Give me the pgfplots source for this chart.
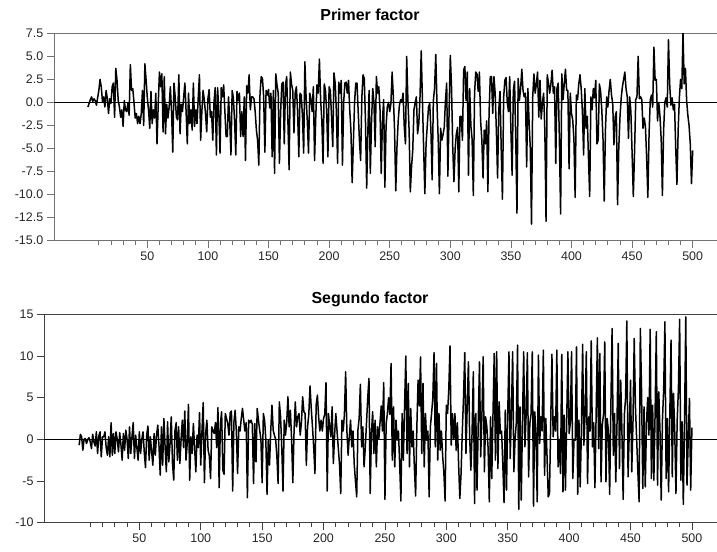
\documentclass[border=0pt]{standalone}
\usepackage{fontspec}
\setmainfont{Liberation Sans}
\usepackage{pgfplots}
\pgfplotsset{compat=1.18}
\pgfplotsset{
  panel/.style={
    scale only axis, anchor=south west,
    axis line style={black!55, line width=0.8bp},
    tick style={black!55, line width=0.8bp},
    tick align=outside,
    xtick pos=lower, ytick pos=left,
    xtick={50,100,...,500},
    minor xtick={10,20,...,490},
    major tick length=7.3bp, minor tick length=4.3bp,
    tick label style={font=\fontsize{12.5}{14}\selectfont, text=black!85},
    /pgf/number format/assume math mode=true,
    clip=true,
  },
  series/.style={black, line width=1.5bp, line join=round},
}
\begin{document}
\begin{tikzpicture}
\useasboundingbox (0,0) rectangle (717bp,552bp);
\begin{axis}[panel,
  at={(54bp,311.3bp)}, width=665bp, height=207.4bp,
  xmin=-27, xmax=521.7, ymin=-15, ymax=7.5,
  ytick={-15,-12.5,...,7.5},
  yticklabels={-15.0,-12.5,-10.0,-7.5,-5.0,-2.5,0.0,2.5,5.0,7.5},
]
\addplot[black, line width=1bp, forget plot] coordinates {(-27,0) (521.7,0)};
\addplot[series] table[x expr=\coordindex+1, y index=0, header=false, row sep=\\] {
-0.5\\ -0.1\\ 0.3\\ 0.6\\ 0.1\\ 0.4\\ 0.2\\ -0.3\\ 0.5\\ 1.3\\ 2.5\\ 1.7\\
0.1\\ 0.6\\ -0.5\\ 1.3\\ 0.4\\ -1.2\\ 0.4\\ -0.1\\ 1.7\\ 2.1\\ -1.6\\ 3.7\\
2.4\\ 0.2\\ -0.5\\ -1.6\\ -0.8\\ -2.6\\ 0.2\\ -0.8\\ -1.0\\ -0.1\\ -1.4\\ 4.1\\
1.3\\ 1.5\\ 0.0\\ -1.7\\ -1.2\\ -2.3\\ -1.5\\ -2.3\\ -1.2\\ 1.3\\ -2.5\\ 4.2\\
2.4\\ 0.5\\ -0.8\\ -2.8\\ 1.2\\ -2.3\\ -0.8\\ -1.7\\ 1.0\\ -4.5\\ -0.2\\ 3.3\\
1.7\\ 3.1\\ -3.2\\ 2.8\\ -3.4\\ -0.2\\ -1.7\\ -0.5\\ 1.7\\ -1.0\\ -5.4\\ 2.1\\
0.6\\ -1.6\\ -1.9\\ 3.0\\ -3.4\\ -0.2\\ -1.0\\ 0.6\\ 2.1\\ -1.0\\ -4.5\\ 1.0\\
-2.3\\ -0.8\\ -3.0\\ 2.1\\ -2.6\\ -0.8\\ -2.3\\ 0.5\\ 3.0\\ -4.1\\ -1.0\\ 1.3\\
0.3\\ -1.2\\ -3.2\\ 0.4\\ 1.4\\ -1.6\\ -1.0\\ -4.1\\ 0.0\\ 1.6\\ -5.7\\ 1.6\\
-1.0\\ -5.5\\ 1.6\\ 0.6\\ 1.9\\ -1.0\\ -3.7\\ -3.7\\ 0.6\\ -2.0\\ -5.7\\ 1.3\\
0.5\\ -2.0\\ -5.7\\ 1.2\\ 0.2\\ 1.0\\ -3.7\\ -1.0\\ -3.7\\ 0.6\\ -6.3\\ 1.8\\
1.0\\ 3.0\\ -0.8\\ 0.6\\ 0.6\\ 0.4\\ -1.0\\ -3.0\\ -4.1\\ -6.8\\ 1.0\\ 2.8\\
2.6\\ 0.6\\ -5.4\\ 1.3\\ 0.8\\ 1.4\\ -0.6\\ 1.0\\ -5.9\\ 1.3\\ -7.7\\ 3.1\\
1.9\\ 1.0\\ -6.6\\ -1.0\\ 2.0\\ 2.2\\ -4.5\\ 1.9\\ 2.8\\ -2.0\\ -7.3\\ 3.3\\
2.0\\ 1.3\\ -3.3\\ 1.0\\ 1.7\\ -1.0\\ -5.9\\ 1.0\\ 0.8\\ -1.5\\ -5.5\\ 4.4\\
0.6\\ -2.0\\ -5.5\\ 1.0\\ 0.4\\ -1.0\\ 1.7\\ -6.3\\ -1.5\\ 1.9\\ 1.0\\ 4.7\\
0.3\\ -2.0\\ -6.6\\ 2.0\\ 1.3\\ -1.0\\ -5.9\\ 1.7\\ 1.3\\ -1.5\\ -4.8\\ 3.2\\
2.1\\ -1.0\\ -6.6\\ 2.2\\ 1.0\\ 2.4\\ -6.8\\ 0.0\\ 2.1\\ 2.2\\ 1.0\\ 2.4\\
-0.8\\ -3.0\\ -8.7\\ -4.5\\ 0.0\\ 2.1\\ 2.1\\ -1.0\\ -4.1\\ -6.3\\ 0.5\\ 3.0\\
2.6\\ -2.0\\ -9.3\\ -3.0\\ 1.3\\ -7.7\\ -2.0\\ 1.5\\ 0.0\\ -4.8\\ 2.8\\ 1.0\\
1.7\\ -0.8\\ -7.7\\ -2.0\\ 0.3\\ -9.2\\ -2.6\\ -0.5\\ 0.0\\ -1.0\\ -0.1\\ 3.3\\
0.6\\ -3.0\\ -9.6\\ -4.8\\ -2.0\\ -0.3\\ 0.3\\ 0.0\\ 1.0\\ -2.6\\ -4.5\\ 5.0\\
0.3\\ -3.0\\ -9.7\\ -7.0\\ -5.2\\ -0.8\\ 0.0\\ 0.6\\ -3.4\\ -2.3\\ 0.6\\ 5.6\\
0.2\\ -5.0\\ -9.9\\ -4.5\\ -2.5\\ -0.5\\ -0.1\\ -3.0\\ -8.4\\ 0.2\\ 1.5\\ 5.2\\
-0.1\\ -4.0\\ -9.9\\ -2.8\\ -4.1\\ -3.5\\ -2.7\\ 0.2\\ 2.1\\ -8.0\\ -1.0\\ 5.1\\
1.7\\ -4.8\\ -8.6\\ -5.0\\ -3.4\\ -2.7\\ -9.7\\ -1.5\\ -1.5\\ -4.1\\ 3.5\\ 3.9\\
0.2\\ 3.3\\ -7.9\\ 1.5\\ -2.6\\ -4.0\\ -10.1\\ 1.0\\ 3.3\\ 3.1\\ 1.2\\ 3.3\\
-2.0\\ -4.0\\ -8.2\\ -3.0\\ -4.5\\ -2.0\\ -9.7\\ -1.0\\ 2.8\\ 2.8\\ -1.2\\ 2.8\\
1.0\\ -3.0\\ -8.2\\ -0.8\\ 1.2\\ -5.0\\ -10.5\\ 0.5\\ 2.4\\ 2.7\\ 0.0\\ -1.0\\
2.8\\ -3.0\\ -7.9\\ 1.3\\ 2.3\\ -4.0\\ -12.0\\ 2.6\\ 0.2\\ 1.5\\ 3.6\\ 1.3\\
0.6\\ 1.0\\ -7.0\\ 1.5\\ -2.1\\ -5.0\\ -13.2\\ 0.6\\ 3.1\\ 1.0\\ 2.0\\ 3.3\\
-1.6\\ 2.4\\ -1.8\\ -0.1\\ 1.0\\ -3.0\\ -12.9\\ 3.0\\ 2.1\\ 1.0\\ 2.0\\ 3.5\\
1.0\\ 1.7\\ -6.6\\ 1.5\\ 2.1\\ -4.0\\ -12.1\\ 3.1\\ 0.3\\ 2.0\\ 3.6\\ 1.3\\
1.3\\ -7.2\\ 1.0\\ -1.2\\ -1.9\\ -4.0\\ -10.3\\ 0.8\\ 0.3\\ 2.0\\ 3.0\\ 1.5\\
-1.0\\ -5.7\\ 1.5\\ -2.8\\ -1.5\\ -6.0\\ -10.2\\ 0.6\\ -0.8\\ 1.5\\ 0.5\\ 2.4\\
-4.5\\ -4.1\\ 2.0\\ 1.2\\ -0.8\\ -4.0\\ -10.7\\ -3.0\\ 0.6\\ -0.5\\ 1.3\\ 2.5\\
0.8\\ -0.1\\ -4.6\\ -1.6\\ -1.0\\ -11.1\\ -5.0\\ -1.6\\ 0.5\\ 1.7\\ 2.5\\ 3.3\\
1.5\\ 0.6\\ -3.9\\ 0.6\\ -1.0\\ -5.5\\ -10.2\\ -5.5\\ 0.3\\ 0.6\\ 5.0\\ 0.4\\
0.6\\ 0.3\\ -2.8\\ -1.7\\ -2.6\\ -6.0\\ -10.3\\ -3.4\\ 0.3\\ 0.8\\ -0.5\\ 6.0\\
2.4\\ 2.5\\ -2.0\\ 0.0\\ -1.5\\ -4.0\\ -10.1\\ -3.0\\ 0.0\\ 0.5\\ -0.5\\ 6.8\\
2.0\\ -0.3\\ 0.5\\ -0.8\\ -0.2\\ -5.0\\ -8.9\\ -3.0\\ 0.5\\ 2.5\\ 1.5\\ 7.5\\
2.0\\ 3.7\\ 0.2\\ -1.4\\ -2.5\\ -4.5\\ -8.8\\ -5.2\\
};
\end{axis}
\node[anchor=base, font=\bfseries\fontsize{16}{18}\selectfont] at (370bp,531.3bp) {Primer factor};

\begin{axis}[panel,
  axis line style={black!75, line width=0.8bp},
  tick style={black!75, line width=0.8bp},
  at={(44.3bp,29.3bp)}, width=675bp, height=208.4bp,
  xmin=-27.4, xmax=522.3, ymin=-10, ymax=15,
  ytick={-10,-5,...,15},
  yticklabels={-10,-5,0,5,10,15},
]
\addplot[black, line width=1bp, forget plot] coordinates {(-27.4,0) (522.3,0)};
\addplot[series] table[x expr=\coordindex+1, y index=0, header=false, row sep=\\] {
-0.7\\ 0.6\\ 0.3\\ -1.3\\ 0.0\\ 0.1\\ -0.5\\ 0.0\\ 0.2\\ -0.3\\ -1.1\\ 0.6\\
-0.3\\ -0.8\\ 0.9\\ -1.7\\ 0.4\\ 0.9\\ -2.1\\ 0.3\\ 0.3\\ 0.9\\ -1.0\\ -1.9\\
0.3\\ -2.1\\ 2.0\\ -1.9\\ 0.7\\ -1.7\\ 0.9\\ 0.0\\ -1.5\\ 0.8\\ -0.6\\ -2.5\\
0.7\\ -1.3\\ 1.1\\ 0.0\\ -2.3\\ 1.5\\ -1.7\\ 0.3\\ 2.0\\ -2.3\\ 0.5\\ -1.0\\
-2.5\\ 0.9\\ -1.7\\ 0.0\\ 0.9\\ -1.5\\ -3.4\\ 0.5\\ 1.6\\ -2.5\\ 0.3\\ -1.5\\
-3.1\\ 0.7\\ -1.9\\ 0.5\\ 1.7\\ -0.8\\ -4.3\\ 1.5\\ -3.1\\ 2.5\\ -1.0\\ -3.9\\
2.1\\ -2.7\\ -0.5\\ 2.7\\ -2.9\\ -4.9\\ 1.0\\ 2.0\\ -2.5\\ 1.5\\ -2.9\\ 0.0\\
2.3\\ -1.0\\ 3.4\\ -2.5\\ -0.5\\ 4.2\\ -4.9\\ 0.3\\ -1.7\\ 1.9\\ -1.0\\ -3.9\\
0.5\\ -1.0\\ 3.2\\ -3.1\\ 1.0\\ 4.4\\ -5.2\\ 0.7\\ 2.3\\ -1.3\\ -2.0\\ -4.7\\
1.5\\ 1.0\\ 0.7\\ 2.0\\ -1.0\\ 3.8\\ -5.8\\ 1.9\\ 3.3\\ -3.7\\ -4.2\\ 3.1\\
2.5\\ 1.9\\ 0.5\\ 3.2\\ 3.4\\ -6.2\\ 2.0\\ 3.5\\ 1.0\\ -4.1\\ 1.5\\ 1.0\\
2.5\\ 3.7\\ 2.3\\ 1.0\\ 2.0\\ -7.0\\ 2.3\\ 2.0\\ 2.3\\ 1.8\\ -5.3\\ 1.9\\
-2.7\\ 3.7\\ 2.3\\ 1.1\\ 0.0\\ -5.2\\ 3.1\\ 2.3\\ 0.0\\ -6.6\\ -0.1\\ -3.1\\
1.0\\ 4.1\\ 1.1\\ 0.5\\ 0.0\\ -2.0\\ -5.3\\ 4.5\\ 2.7\\ -1.0\\ -6.2\\ 2.3\\
0.5\\ 2.0\\ 5.1\\ 1.5\\ 3.5\\ 0.0\\ -5.2\\ 1.0\\ 4.5\\ 1.5\\ 2.7\\ 3.1\\
0.5\\ 2.0\\ 5.1\\ 3.3\\ 3.1\\ -3.1\\ 1.5\\ 3.0\\ 6.4\\ 3.7\\ 1.5\\ -1.0\\
-4.1\\ 4.1\\ 5.3\\ 2.7\\ 1.0\\ 2.3\\ 1.0\\ 2.5\\ 3.0\\ 6.8\\ -6.2\\ 3.1\\
1.5\\ 0.3\\ 3.9\\ -2.9\\ 0.5\\ 3.1\\ 1.0\\ -1.0\\ -3.0\\ -6.5\\ 2.3\\ 1.0\\
3.0\\ 8.1\\ 1.1\\ -1.9\\ 0.3\\ 2.3\\ -0.9\\ 1.0\\ -3.0\\ -5.0\\ -6.9\\ 1.1\\
2.5\\ 6.6\\ -0.9\\ 1.5\\ -3.3\\ -1.0\\ 2.0\\ 5.0\\ 7.3\\ -6.5\\ 0.7\\ 3.3\\
-1.7\\ 2.3\\ -3.3\\ 1.5\\ 0.0\\ 2.0\\ 4.0\\ 1.0\\ 6.8\\ -7.2\\ 1.9\\ 3.1\\
5.0\\ 3.0\\ 9.1\\ -2.5\\ 3.9\\ -3.3\\ 2.3\\ -0.1\\ 1.0\\ -3.0\\ -7.4\\ 3.1\\
-2.5\\ 4.0\\ 10.0\\ -1.7\\ 6.7\\ -3.3\\ 3.7\\ -0.9\\ 1.0\\ -3.5\\ -6.8\\ 1.5\\
7.1\\ 4.0\\ 9.9\\ -1.7\\ 6.7\\ -3.3\\ 3.1\\ -0.1\\ 1.0\\ -6.9\\ 1.5\\ 3.1\\
5.0\\ 10.4\\ -0.9\\ 9.1\\ -2.5\\ 3.1\\ -1.3\\ 1.0\\ -2.0\\ -4.0\\ -7.4\\ 4.1\\
3.1\\ 6.0\\ 11.2\\ -0.7\\ 3.1\\ 0.0\\ 3.1\\ -1.3\\ 2.0\\ -3.0\\ -7.1\\ -4.1\\
0.9\\ 5.0\\ 10.4\\ -1.7\\ 4.0\\ 9.3\\ 0.3\\ -3.7\\ 1.0\\ 8.1\\ -7.7\\ 3.1\\
-6.1\\ 2.0\\ 9.3\\ -2.1\\ 3.0\\ 9.9\\ -3.9\\ 2.7\\ 1.5\\ -1.0\\ -7.5\\ 2.7\\
-4.7\\ 3.0\\ 10.3\\ -2.5\\ 10.5\\ -3.5\\ 4.5\\ 0.7\\ 1.0\\ -3.0\\ -7.6\\ 3.5\\
-6.1\\ 3.0\\ 10.5\\ -2.3\\ 3.0\\ 10.5\\ -3.9\\ 0.1\\ 2.0\\ 11.3\\ -8.4\\ 3.9\\
-7.3\\ 2.0\\ 10.5\\ -0.9\\ 3.0\\ 10.4\\ -4.5\\ 1.9\\ 3.0\\ 10.5\\ -8.0\\ 3.3\\
1.0\\ -7.5\\ 10.1\\ -0.5\\ 2.7\\ 1.0\\ 10.7\\ -4.3\\ 2.5\\ -2.0\\ -6.9\\ -6.5\\
2.0\\ 10.2\\ 0.3\\ 2.7\\ 1.0\\ 10.7\\ -3.3\\ 0.0\\ -4.1\\ 10.2\\ -6.3\\ 2.9\\
-6.1\\ 2.0\\ 10.5\\ 0.7\\ 2.0\\ 10.5\\ -4.7\\ 0.0\\ -0.1\\ 11.1\\ -6.6\\ 2.3\\
-5.7\\ 1.0\\ 11.4\\ -0.7\\ 3.0\\ 10.5\\ -5.3\\ 2.7\\ 1.0\\ 11.8\\ -0.9\\ 2.0\\
-5.8\\ 3.0\\ 12.2\\ -1.1\\ 10.3\\ -5.1\\ 1.7\\ 3.0\\ 11.7\\ -5.1\\ 2.5\\ 1.0\\
-6.6\\ 4.0\\ 13.3\\ -1.9\\ 3.1\\ -5.1\\ 2.0\\ 11.5\\ -3.5\\ 7.1\\ 1.0\\ -7.2\\
3.0\\ 5.0\\ 14.2\\ -4.5\\ 1.0\\ 7.1\\ -3.9\\ 2.0\\ 12.1\\ 3.9\\ 0.0\\ -4.0\\
-7.5\\ 13.3\\ 5.7\\ -5.9\\ 3.9\\ -5.7\\ 2.0\\ 5.0\\ 0.5\\ 13.2\\ -4.7\\ 4.1\\
-4.9\\ 3.0\\ 12.9\\ -5.5\\ 5.7\\ 1.0\\ -7.3\\ 2.3\\ 6.0\\ 14.1\\ -4.7\\ 2.5\\
-6.3\\ 3.0\\ 11.9\\ -4.5\\ 5.5\\ 1.0\\ -6.5\\ 2.3\\ 6.0\\ 14.4\\ -4.9\\ 2.1\\
-7.8\\ 2.3\\ 14.7\\ -5.5\\ 0.0\\ 4.9\\ -6.1\\ 1.4\\
};
\end{axis}
\node[anchor=base, font=\bfseries\fontsize{16}{18}\selectfont] at (370bp,248.7bp) {Segundo factor};
\end{tikzpicture}
\end{document}
